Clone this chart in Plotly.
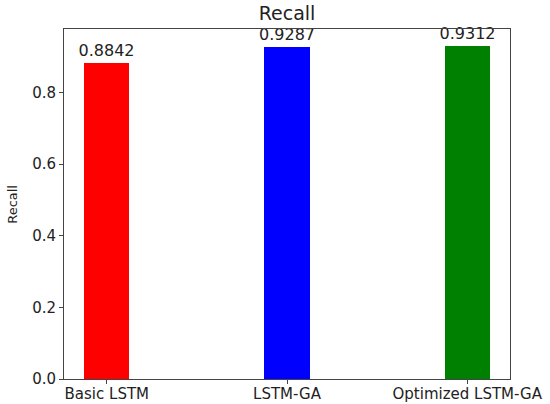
import plotly.graph_objects as go

models = ['Basic LSTM', 'LSTM-GA', 'Optimized LSTM-GA']
recall = [0.8842, 0.9287, 0.9312]
colors = ['red', 'blue', 'green']
y_ticks = [0.0, 0.2, 0.4, 0.6, 0.8]

fig = go.Figure()
fig.add_trace(go.Bar(
    x=[0, 1, 2],
    y=recall,
    width=0.25,
    marker=dict(color=colors, line=dict(width=0)),
    text=[f'{v:.4f}' for v in recall],
    textposition='outside',
    constraintext='none',
    textfont=dict(family='DejaVu Sans', size=16, color='#222'),
    cliponaxis=False,
))

axis_style = dict(
    showline=True, linecolor='#444', linewidth=1, mirror=True,
    ticks='outside', ticklen=4, tickcolor='#444',
    showgrid=False, zeroline=False, automargin=False,
    tickfont=dict(family='DejaVu Sans', size=15, color='#222'),
)

fig.update_layout(
    width=550, height=404,
    margin=dict(l=64, r=40, t=29, b=25),
    paper_bgcolor='white', plot_bgcolor='white',
    title=dict(text='Recall', xref='paper', x=0.5, xanchor='center', y=0.968, yanchor='middle',
               font=dict(family='DejaVu Sans', size=19, color='#222')),
    showlegend=False,
    bargap=0,
)
# y-axis label placed as annotation (standoff is ignored without automargin)
fig.add_annotation(text='Recall', textangle=-90, xref='paper', yref='paper',
                   x=-0.117, y=0.5, xanchor='center', yanchor='middle', showarrow=False,
                   font=dict(family='DejaVu Sans', size=13, color='#222'))
fig.update_xaxes(range=[-0.2375, 2.2375], tickvals=[0, 1, 2], ticktext=models,
                 ticklabelstandoff=-3, **axis_style)
fig.update_yaxes(range=[0, 0.9778], tickvals=y_ticks, ticktext=[f'{t:.1f}' for t in y_ticks],
                 **axis_style)

# drop the default 8px body margin so the figure sits flush in the window
fig.write_html("out.html", config={'displayModeBar': False},
               post_script="document.body.style.margin='0';")
